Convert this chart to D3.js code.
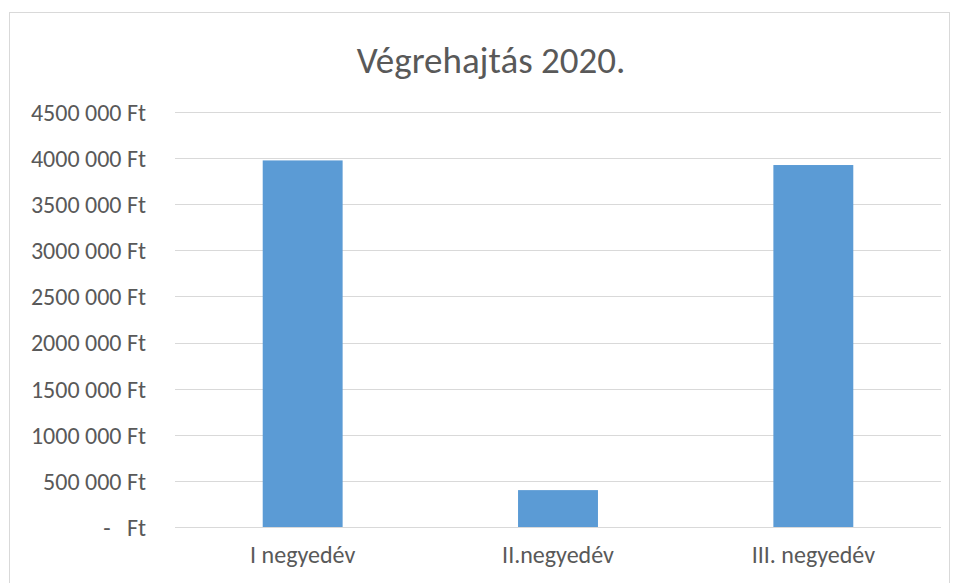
<!DOCTYPE html>
<html><head><meta charset="utf-8">
<script src="https://cdn.jsdelivr.net/npm/d3@7"></script>
<style>
body{margin:0;background:#fff;}
text{font-family:Carlito,Calibri,"Open Sans",sans-serif;fill:#595959;}
</style></head><body>
<svg id="c" width="958" height="583"></svg>
<script>
const title = "Végrehajtás 2020.";
const categories = ["I negyedév", "II.negyedév", "III. negyedév"];
const values = [3975000, 400000, 3925000];
const yTicks = [0, 500000, 1000000, 1500000, 2000000, 2500000, 3000000, 3500000, 4000000, 4500000];

const svg = d3.select("#c");
const W = 958, H = 583;
const m = {left:175, right:17, top:112, bottom:56};
const FONT = 'Carlito,Calibri,"Open Sans",sans-serif';

svg.append("rect").attr("x",9.5).attr("y",12.5).attr("width",940).attr("height",H)
  .attr("fill","#fff").attr("stroke","#d9d9d9").attr("stroke-width",1);

const x = d3.scaleBand().domain(categories).range([m.left, W-m.right]).paddingInner(0.687).paddingOuter(0.3435);
const y = d3.scaleLinear().domain([0,4500000]).range([H-m.bottom, m.top]);

function label(v){
  if(v===0) return "-\u00a0\u00a0\u00a0Ft";
  return (v/1000) + " 000 Ft";
}

// gridlines
svg.append("g").selectAll("line").data(yTicks).join("line")
  .attr("x1",m.left).attr("x2",W-m.right)
  .attr("y1",d=>Math.round(y(d))+0.5).attr("y2",d=>Math.round(y(d))+0.5)
  .attr("stroke","#d9d9d9").attr("stroke-width",1);

// y axis labels
const yAxis = d3.axisLeft(y).tickValues(yTicks).tickSize(0).tickPadding(29).tickFormat(label);
const ga = svg.append("g").attr("transform",`translate(${m.left},0)`).call(yAxis);
ga.select(".domain").remove();
ga.selectAll("text").attr("font-size",24).style("fill","#595959").style("font-family",FONT).attr("dy","0.35em");

// bars
svg.append("g").selectAll("rect").data(values).join("rect")
  .attr("x",(d,i)=>x(categories[i])).attr("width",x.bandwidth())
  .attr("y",d=>y(d)).attr("height",d=>y(0)-y(d))
  .attr("fill","#5b9bd5");

// x axis
const xAxis = d3.axisBottom(x).tickSize(0).tickPadding(19);
const gx = svg.append("g").attr("transform",`translate(0,${y(0)})`).call(xAxis);
gx.select(".domain").remove();
gx.selectAll("text").attr("font-size",24).style("fill","#595959").style("font-family",FONT);

svg.append("text").attr("x",491).attr("y",73).attr("text-anchor","middle")
  .attr("font-size",37).text(title);
</script></body></html>
